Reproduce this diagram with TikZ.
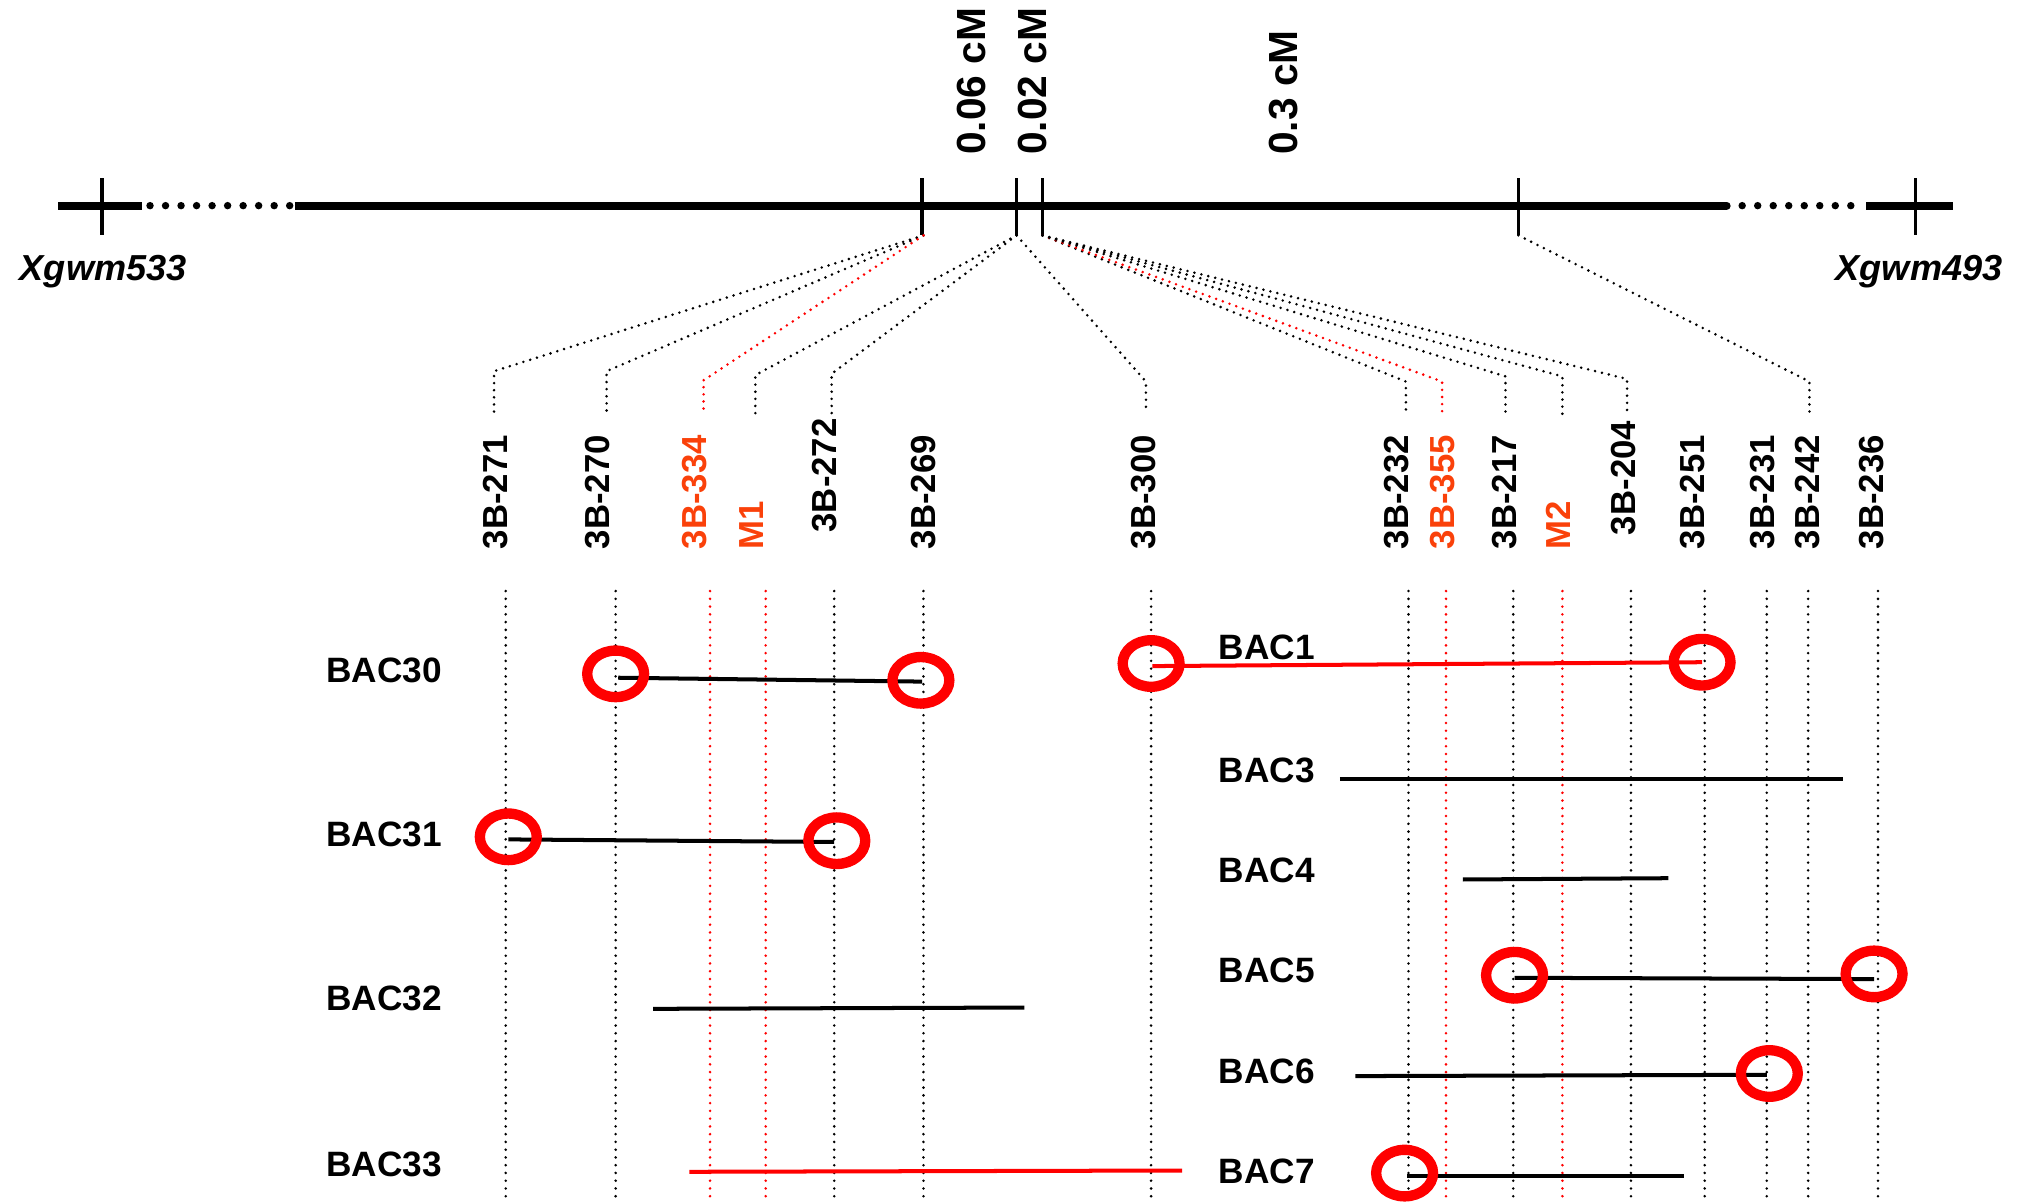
\documentclass[tikz,border=0pt]{standalone}
\usepackage{fontspec}
\setmainfont{Liberation Sans}
\definecolor{lblred}{RGB}{250,65,10}
\begin{document}
\begin{tikzpicture}[x=0.02cm,y=-0.02cm,
  chrom/.style={line width=0.124cm},
  chromdots/.style={line width=0.115cm,line cap=round,dash pattern=on 0pt off 0.24cm},
  tickline/.style={line width=0.055cm},
  fan/.style={line width=0.044cm,line cap=round,dash pattern=on 0pt off 0.11cm},
  fanred/.style={fan,red},
  vline/.style={line width=0.044cm,line cap=round,dash pattern=on 0pt off 0.12cm},
  vlinered/.style={vline,red},
  bac/.style={line width=0.062cm},
  bacred/.style={bac,red},
  circ/.style={red,line width=0.16cm},
  mlbl/.style={rotate=90,anchor=west,inner sep=0pt,text height=10.95pt,text depth=0pt,font=\bfseries\fontsize{15.3}{18}\selectfont},
  mlblred/.style={mlbl,text=lblred},
  cmlbl/.style={rotate=90,anchor=west,inner sep=0pt,text height=12.8pt,text depth=0pt,font=\bfseries\fontsize{17.9}{21}\selectfont},
  baclbl/.style={anchor=west,inner sep=0pt,text height=11pt,text depth=0pt,font=\bfseries\fontsize{15.5}{18}\selectfont},
  xlbl/.style={anchor=base west,inner sep=0pt,font=\bfseries\itshape\fontsize{15.9}{18}\selectfont}
]
\useasboundingbox (0,0) rectangle (1568,929);

% ---------- chromosome ----------
\coordinate (L0) at (45,159);
\coordinate (L1) at (110,159);
\coordinate (L2) at (228,159);
\coordinate (R0) at (1335,159);
\coordinate (R1) at (1443,159);
\coordinate (R2) at (1510,159);
\draw[chrom] (L0) -- (L1);
\draw[chromdots] (116,159) -- (225,159);
\draw[chrom] (L2) -- (R0);
\draw[chrom,line cap=round] (1332,159) -- (R0);
\draw[chromdots] (1347,159) -- (1432,159);
\draw[chrom] (R1) -- (R2);

% ticks
\foreach \n/\x in {t1/79,t2/713,t3/786,t4/806,t5/1174,t6/1481}{
  \coordinate (\n top) at (\x,138);
  \coordinate (\n bot) at (\x,182);
  \draw[tickline] (\n top) -- (\n bot);
}

% cM labels
\node[cmlbl] (cm1) at (751,120) {0.06 cM};
\node[cmlbl] (cm2) at (798,120) {0.02 cM};
\node[cmlbl] (cm3) at (992,120) {0.3 cM};

% flanking markers
\node[xlbl] (x533) at (15,217) {Xgwm533};
\node[xlbl] (x493) at (1419,217) {Xgwm493};

% ---------- fan lines ----------
\coordinate (A) at (714,182);
\coordinate (B) at (786,182);
\coordinate (C) at (806,182);
\coordinate (D) at (1174,182);

\draw[fan] (A) -- (382,287) coordinate (k271) -- (382,320) coordinate (e271);
\draw[fan] (A) -- (469,287) coordinate (k270) -- (469,320) coordinate (e270);
\draw[fanred] (A) -- (544,294) coordinate (k334) -- (544,320) coordinate (e334);
\draw[fan] (B) -- (584,290) coordinate (km1) -- (584,320) coordinate (em1);
\draw[fan] (B) -- (643,289) coordinate (k272) -- (643,320) coordinate (e272);
\draw[fan] (B) -- (886,295) coordinate (k300) -- (886,320) coordinate (e300);
\draw[fan] (C) -- (1087,295) coordinate (k232) -- (1087,320) coordinate (e232);
\draw[fanred] (C) -- (1115,295) coordinate (k355) -- (1115,320) coordinate (e355);
\draw[fan] (C) -- (1164,291) coordinate (k217) -- (1164,320) coordinate (e217);
\draw[fan] (C) -- (1208,291) coordinate (km2) -- (1208,320) coordinate (em2);
\draw[fan] (C) -- (1258,293) coordinate (k204) -- (1258,320) coordinate (e204);
\draw[fan] (D) -- (1399,295) coordinate (k242) -- (1399,320) coordinate (e242);

% ---------- marker labels ----------
\node[mlbl] (n271) at (383,425) {3B-271};
\node[mlbl] (n270) at (462,425) {3B-270};
\node[mlblred] (n334) at (537,425) {3B-334};
\node[mlblred] (nm1) at (581,425) {M1};
\node[mlbl] (n272) at (637,412) {3B-272};
\node[mlbl] (n269) at (714,425) {3B-269};
\node[mlbl] (n300) at (884,425) {3B-300};
\node[mlbl] (n232) at (1079,425) {3B-232};
\node[mlblred] (n355) at (1115,425) {3B-355};
\node[mlbl] (n217) at (1163,425) {3B-217};
\node[mlblred] (nm2) at (1205,425) {M2};
\node[mlbl] (n204) at (1255,414) {3B-204};
\node[mlbl] (n251) at (1308,425) {3B-251};
\node[mlbl] (n231) at (1362,425) {3B-231};
\node[mlbl] (n242) at (1397,425) {3B-242};
\node[mlbl] (n236) at (1447,425) {3B-236};

% ---------- vertical dotted lines ----------
\foreach \x in {391,476,645,714,890,1089,1170,1261,1318,1366,1398,1452}{
  \draw[vline] (\x,457) -- (\x,932);
}
\foreach \x in {549,592,1118,1208}{
  \draw[vlinered] (\x,457) -- (\x,932);
}

% ---------- BAC labels ----------
\node[baclbl] (b30) at (252,518) {BAC30};
\node[baclbl] (b31) at (252,645) {BAC31};
\node[baclbl] (b32) at (252,772) {BAC32};
\node[baclbl] (b33) at (252,900) {BAC33};
\node[baclbl] (b1) at (942,500) {BAC1};
\node[baclbl] (b3) at (942,595) {BAC3};
\node[baclbl] (b4) at (942,673) {BAC4};
\node[baclbl] (b5) at (942,750) {BAC5};
\node[baclbl] (b6) at (942,828) {BAC6};
\node[baclbl] (b7) at (942,905) {BAC7};

% ---------- BAC clones ----------
\draw[bac] (478,524) -- (713,527);
\draw[bac] (393,649) -- (645,651);
\draw[bac] (505,780) -- (792,779);
\draw[bacred] (533,906) -- (914,905);
\draw[bacred] (891,515) -- (1316,512);
\draw[bac] (1036,602) -- (1425,602);
\draw[bac] (1131,680) -- (1290,679);
\draw[bac] (1171,756) -- (1449,757);
\draw[bac] (1048,832) -- (1366,831);
\draw[bac] (1088,909) -- (1302,909);

% ---------- circles ----------
\foreach \cx/\cy in {476/521,712/526,393/647,647/650,890/513,1316/512,1171/754,1449/753,1368/830,1086/907}{
  \draw[circ] (\cx,\cy) ellipse [x radius=0.44cm,y radius=0.36cm];
}
\end{tikzpicture}
\end{document}
